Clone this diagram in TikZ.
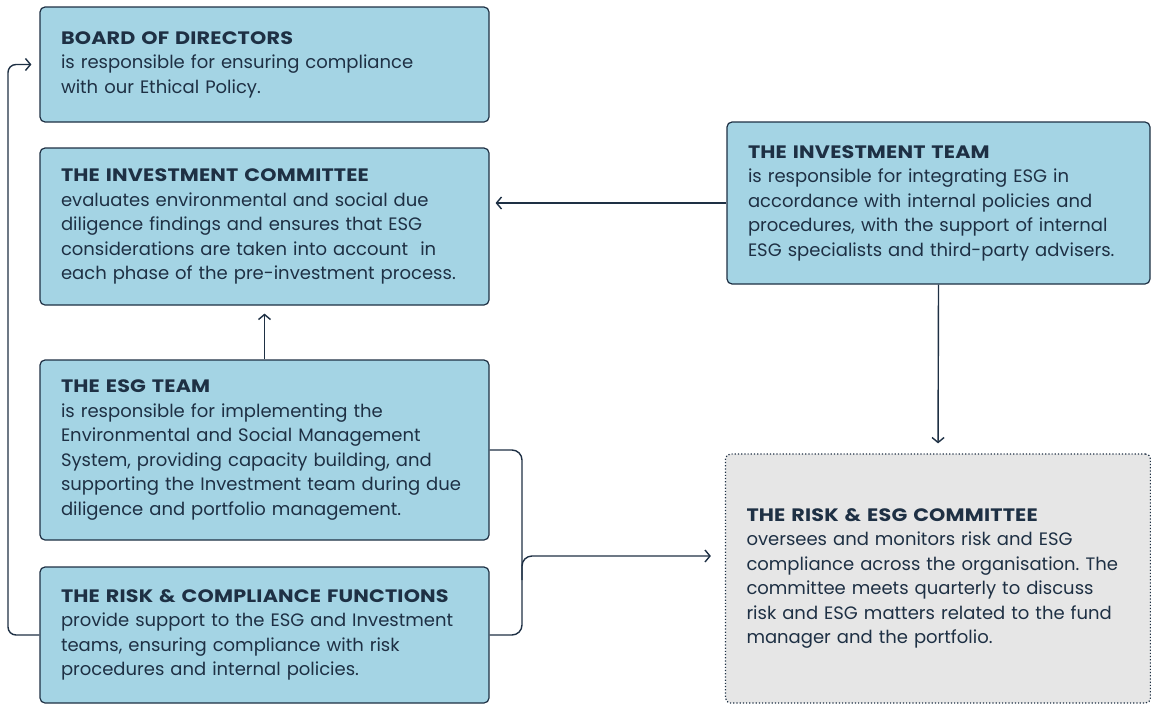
\documentclass[tikz,border=0pt]{standalone}
\usepackage{fontspec}
\setmainfont{Poppins}
\usetikzlibrary{arrows.meta}
\newcommand{\boxtitle}[1]{{\bfseries\addfontfeature{FakeStretch=1.15,LetterSpace=1}#1}}
\begin{document}
\frenchspacing
\begin{tikzpicture}[x=1pt,y=-1pt]
\definecolor{navy}{RGB}{30,48,68}
\definecolor{boxblue}{RGB}{164,212,228}
\definecolor{boxgrey}{RGB}{230,230,230}
\tikzstyle{box}=[draw=navy,line width=1.2pt,rounded corners=5pt,fill=boxblue,text=navy,
  align=left,inner xsep=21pt,inner ysep=0pt,font=\fontsize{18}{24.5}\selectfont]
\tikzstyle{greybox}=[box,fill=boxgrey,dotted]
\tikzstyle{link}=[draw=navy,line width=1.4pt,-{Straight Barb[length=5pt,width=12pt]}]
\tikzstyle{bracket}=[draw=navy,line width=1.4pt,rounded corners=10pt]
\useasboundingbox (0,0) rectangle (1151,704);
% left column
\node[box,text width=407pt,minimum height=115pt] (bod) at (264.5,64.5)
  {\boxtitle{BOARD OF DIRECTORS}\\is responsible for ensuring compliance\\with our Ethical Policy.};
\node[box,text width=407pt,minimum height=157pt] (ic) at (264.5,226.5)
  {\boxtitle{THE INVESTMENT COMMITTEE}\\evaluates environmental and social due\\diligence findings and ensures that ESG\\considerations are taken into account \ in\\each phase of the pre-investment process.};
\node[box,text width=407pt,minimum height=180pt] (esg) at (264.5,450)
  {\boxtitle{THE ESG TEAM}\\is responsible for implementing the\\Environmental and Social Management\\System, providing capacity building, and\\supporting the Investment team during due\\diligence and portfolio management.};
\node[box,text width=407pt,minimum height=136pt] (rc) at (264.5,635)
  {\boxtitle{THE RISK \& COMPLIANCE FUNCTIONS}\\provide support to the ESG and Investment\\teams, ensuring compliance with risk\\procedures and internal policies.};
% right column
\node[box,text width=381pt,minimum height=162pt] (it) at (938.5,203)
  {\boxtitle{THE INVESTMENT TEAM}\\is responsible for integrating ESG in\\accordance with internal policies and\\procedures, with the support of internal\\ESG specialists and third-party advisers.};
\node[greybox,text width=383pt,minimum height=249pt] (resg) at (938,578.5)
  {\boxtitle{THE RISK \& ESG COMMITTEE}\\oversees and monitors risk and ESG\\compliance across the organisation. The\\committee meets quarterly to discuss\\risk and ESG matters related to the fund\\manager and the portfolio.};
% connectors
\coordinate (loop) at (8,0);
\coordinate (bx) at (522,0);
\coordinate (mid) at (522,556);
\draw[link,shorten >=6pt] (it.west) -- (it.west -| ic.east);
\draw[link,shorten >=10pt] (it.south) -- (resg.north);
\draw[link,shorten >=8pt] (esg.north) -- (ic.south);
\draw[link,rounded corners=8pt,shorten >=8pt] (rc.west) -- (rc.west -| loop) -- (bod.west -| loop) -- (bod.west);
\draw[bracket] (esg.east) -- (esg.east -| bx) -- (rc.east -| bx) -- (rc.east);
\draw[link,rounded corners=10pt,shorten >=14pt] (522,580) -- (mid) -- (mid -| resg.west);
\end{tikzpicture}
\end{document}
